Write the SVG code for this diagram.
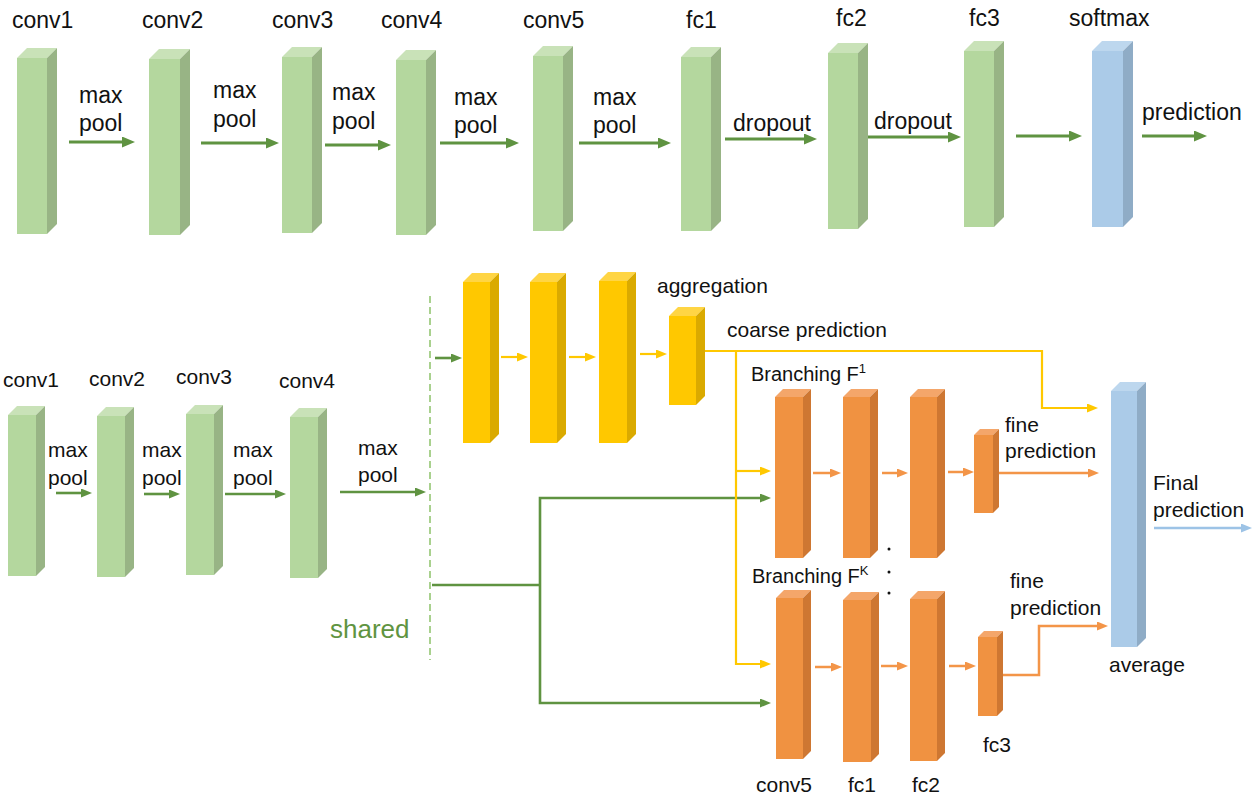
<svg xmlns="http://www.w3.org/2000/svg" width="1256" height="802" viewBox="0 0 1256 802">
<style>
text{font-family:"Liberation Sans",Arial,sans-serif;fill:#111}
.t{font-size:23px}
.b{font-size:21px}
.g .f{fill:#B4D79E}.g .s{fill:#98B485}.g .u{fill:#C9E2B8}
.y .f{fill:#FFC800}.y .s{fill:#DAAA00}.y .u{fill:#FFD544}
.o .f{fill:#F09241}.o .s{fill:#CE7732}.o .u{fill:#F4A66A}
.bl .f{fill:#ABCBE8}.bl .s{fill:#8FACC6}.bl .u{fill:#BDD7EE}
.cg{stroke:#5F9341;fill:none}
.cy{stroke:#FFC800;fill:none;stroke-width:2.2}
.co{stroke:#F39548;fill:none;stroke-width:2.5}
.cb{stroke:#9DC3E6;fill:none;stroke-width:2.5}
</style>
<defs>
<marker id="mgB" markerUnits="userSpaceOnUse" markerWidth="13" markerHeight="11" refX="5" refY="5.5" orient="auto"><path d="M0,0 L13,5.5 L0,11 z" fill="#5F9341"/></marker>
<marker id="mg" markerUnits="userSpaceOnUse" markerWidth="11" markerHeight="9" refX="3" refY="4.5" orient="auto"><path d="M0,0 L11,4.5 L0,9 z" fill="#5F9341"/></marker>
<marker id="my" markerUnits="userSpaceOnUse" markerWidth="11" markerHeight="9" refX="3" refY="4.5" orient="auto"><path d="M0,0 L11,4.5 L0,9 z" fill="#FFC800"/></marker>
<marker id="mo" markerUnits="userSpaceOnUse" markerWidth="11" markerHeight="9" refX="3" refY="4.5" orient="auto"><path d="M0,0 L11,4.5 L0,9 z" fill="#F39548"/></marker>
<marker id="mb" markerUnits="userSpaceOnUse" markerWidth="11" markerHeight="9" refX="3" refY="4.5" orient="auto"><path d="M0,0 L11,4.5 L0,9 z" fill="#9DC3E6"/></marker>
</defs>
<rect width="1256" height="802" fill="#fff"/>

<!-- top row -->
<g id="t-conv1" class="g"><rect class="f" x="17" y="58" width="30" height="176"/><path class="u" d="M17,58 L27,48 L57,48 L47,58 z"/><path class="s" d="M47,58 L57,48 L57,224 L47,234 z"/><text class="t" x="12" y="28">conv1</text></g>
<g id="t-conv2" class="g"><rect class="f" x="149" y="59" width="31" height="176"/><path class="u" d="M149,59 L159,49 L190,49 L180,59 z"/><path class="s" d="M180,59 L190,49 L190,225 L180,235 z"/><text class="t" x="142" y="28">conv2</text></g>
<g id="t-conv3" class="g"><rect class="f" x="282" y="57" width="30" height="176"/><path class="u" d="M282,57 L292,47 L322,47 L312,57 z"/><path class="s" d="M312,57 L322,47 L322,223 L312,233 z"/><text class="t" x="272" y="28">conv3</text></g>
<g id="t-conv4" class="g"><rect class="f" x="396" y="60" width="30" height="175"/><path class="u" d="M396,60 L406,50 L436,50 L426,60 z"/><path class="s" d="M426,60 L436,50 L436,225 L426,235 z"/><text class="t" x="381" y="28">conv4</text></g>
<g id="t-conv5" class="g"><rect class="f" x="533" y="56" width="30" height="175"/><path class="u" d="M533,56 L543,46 L573,46 L563,56 z"/><path class="s" d="M563,56 L573,46 L573,221 L563,231 z"/><text class="t" x="523" y="28">conv5</text></g>
<g id="t-fc1" class="g"><rect class="f" x="681" y="57" width="30" height="174"/><path class="u" d="M681,57 L691,47 L721,47 L711,57 z"/><path class="s" d="M711,57 L721,47 L721,221 L711,231 z"/><text class="t" x="686" y="28">fc1</text></g>
<g id="t-fc2" class="g"><rect class="f" x="828" y="53" width="30" height="176"/><path class="u" d="M828,53 L838,43 L868,43 L858,53 z"/><path class="s" d="M858,53 L868,43 L868,219 L858,229 z"/><text class="t" x="836" y="26">fc2</text></g>
<g id="t-fc3" class="g"><rect class="f" x="964" y="51" width="30" height="176"/><path class="u" d="M964,51 L974,41 L1004,41 L994,51 z"/><path class="s" d="M994,51 L1004,41 L1004,217 L994,227 z"/><text class="t" x="969" y="26">fc3</text></g>
<g id="t-softmax" class="bl"><rect class="f" x="1092" y="51" width="31" height="176"/><path class="u" d="M1092,51 L1102,41 L1133,41 L1123,51 z"/><path class="s" d="M1123,51 L1133,41 L1133,217 L1123,227 z"/><text class="t" x="1069" y="26">softmax</text></g>

<!-- bottom shared green -->
<g id="b-conv1" class="g"><rect class="f" x="8" y="415" width="28" height="161"/><path class="u" d="M8,415 L17,406 L45,406 L36,415 z"/><path class="s" d="M36,415 L45,406 L45,567 L36,576 z"/><text class="b" x="3" y="387">conv1</text></g>
<g id="b-conv2" class="g"><rect class="f" x="97" y="416" width="28" height="161"/><path class="u" d="M97,416 L106,407 L134,407 L125,416 z"/><path class="s" d="M125,416 L134,407 L134,568 L125,577 z"/><text class="b" x="89" y="386">conv2</text></g>
<g id="b-conv3" class="g"><rect class="f" x="186" y="414" width="28" height="161"/><path class="u" d="M186,414 L195,405 L223,405 L214,414 z"/><path class="s" d="M214,414 L223,405 L223,566 L214,575 z"/><text class="b" x="176" y="384">conv3</text></g>
<g id="b-conv4" class="g"><rect class="f" x="290" y="417" width="28" height="161"/><path class="u" d="M290,417 L299,408 L327,408 L318,417 z"/><path class="s" d="M318,417 L327,408 L327,569 L318,578 z"/><text class="b" x="279" y="388">conv4</text></g>

<!-- yellow coarse -->
<g id="y1" class="y"><rect class="f" x="463" y="282" width="27" height="161"/><path class="u" d="M463,282 L472,273 L499,273 L490,282 z"/><path class="s" d="M490,282 L499,273 L499,434 L490,443 z"/></g>
<g id="y2" class="y"><rect class="f" x="530" y="282" width="27" height="161"/><path class="u" d="M530,282 L539,273 L566,273 L557,282 z"/><path class="s" d="M557,282 L566,273 L566,434 L557,443 z"/></g>
<g id="y3" class="y"><rect class="f" x="599" y="281" width="28" height="162"/><path class="u" d="M599,281 L608,272 L636,272 L627,281 z"/><path class="s" d="M627,281 L636,272 L636,434 L627,443 z"/></g>
<g id="y4" class="y"><rect class="f" x="669" y="316" width="27" height="89"/><path class="u" d="M669,316 L678,307 L705,307 L696,316 z"/><path class="s" d="M696,316 L705,307 L705,396 L696,405 z"/><text class="b" x="657" y="293">aggregation</text></g>

<!-- orange branch 1 -->
<g id="o1" class="o"><rect class="f" x="775" y="397" width="28" height="161"/><path class="u" d="M775,397 L783,389 L811,389 L803,397 z"/><path class="s" d="M803,397 L811,389 L811,550 L803,558 z"/></g>
<g id="o2" class="o"><rect class="f" x="843" y="397" width="27" height="161"/><path class="u" d="M843,397 L851,389 L878,389 L870,397 z"/><path class="s" d="M870,397 L878,389 L878,550 L870,558 z"/></g>
<g id="o3" class="o"><rect class="f" x="910" y="397" width="27" height="161"/><path class="u" d="M910,397 L918,389 L945,389 L937,397 z"/><path class="s" d="M937,397 L945,389 L945,550 L937,558 z"/></g>
<g id="o4" class="o"><rect class="f" x="974" y="435" width="19" height="78"/><path class="u" d="M974,435 L980,429 L999,429 L993,435 z"/><path class="s" d="M993,435 L999,429 L999,507 L993,513 z"/></g>

<!-- orange branch K -->
<g id="k1" class="o"><rect class="f" x="776" y="598" width="27" height="161"/><path class="u" d="M776,598 L784,590 L811,590 L803,598 z"/><path class="s" d="M803,598 L811,590 L811,751 L803,759 z"/><text class="b" x="756" y="792">conv5</text></g>
<g id="k2" class="o"><rect class="f" x="843" y="600" width="28" height="162"/><path class="u" d="M843,600 L851,592 L879,592 L871,600 z"/><path class="s" d="M871,600 L879,592 L879,754 L871,762 z"/><text class="b" x="848" y="792">fc1</text></g>
<g id="k3" class="o"><rect class="f" x="910" y="599" width="27" height="162"/><path class="u" d="M910,599 L918,591 L945,591 L937,599 z"/><path class="s" d="M937,599 L945,591 L945,753 L937,761 z"/><text class="b" x="912" y="792">fc2</text></g>
<g id="k4" class="o"><rect class="f" x="978" y="637" width="19" height="79"/><path class="u" d="M978,637 L984,631 L1003,631 L997,637 z"/><path class="s" d="M997,637 L1003,631 L1003,710 L997,716 z"/><text class="b" x="983" y="752">fc3</text></g>

<!-- average -->
<g id="avg" class="bl"><rect class="f" x="1111" y="391" width="26" height="256"/><path class="u" d="M1111,391 L1120,382 L1146,382 L1137,391 z"/><path class="s" d="M1137,391 L1146,382 L1146,638 L1137,647 z"/><text class="b" x="1109" y="672">average</text></g>

<!-- labels -->
<g id="labels">
<text class="t" x="79" y="103">max<tspan x="79" y="131">pool</tspan></text>
<text class="t" x="213" y="98">max<tspan x="213" y="127">pool</tspan></text>
<text class="t" x="332" y="100">max<tspan x="332" y="129">pool</tspan></text>
<text class="t" x="454" y="105">max<tspan x="454" y="133">pool</tspan></text>
<text class="t" x="593" y="105">max<tspan x="593" y="133">pool</tspan></text>
<text class="t" x="733" y="131">dropout</text>
<text class="t" x="874" y="129">dropout</text>
<text class="t" x="1142" y="120">prediction</text>
<text class="b" x="48" y="457">max<tspan x="48" y="485">pool</tspan></text>
<text class="b" x="142" y="457">max<tspan x="142" y="485">pool</tspan></text>
<text class="b" x="233" y="457">max<tspan x="233" y="485">pool</tspan></text>
<text class="b" x="358" y="455">max<tspan x="358" y="482">pool</tspan></text>
<text x="330" y="638" style="font-size:26px;fill:#609441">shared</text>
<text class="b" x="727" y="337">coarse prediction</text>
<text x="751" y="381" style="font-size:20px">Branching F<tspan dy="-8" style="font-size:13px">1</tspan></text>
<text x="752" y="583" style="font-size:20px">Branching F<tspan dy="-8" style="font-size:13px">K</tspan></text>
<text class="b" x="1005" y="432">fine<tspan x="1005" y="458">prediction</tspan></text>
<text class="b" x="1010" y="588">fine<tspan x="1010" y="615">prediction</tspan></text>
<text class="b" x="1153" y="490">Final<tspan x="1153" y="517">prediction</tspan></text>
<circle cx="889" cy="549" r="1.5" fill="#111"/>
<circle cx="889" cy="572" r="1.5" fill="#111"/>
<circle cx="889" cy="593" r="1.5" fill="#111"/>
</g>

<!-- connectors -->
<g id="connectors">
<line x1="430" y1="296" x2="430" y2="660" stroke="#A9D18E" stroke-width="2" stroke-dasharray="7,4"/>
<g class="cg" stroke-width="3" marker-end="url(#mgB)">
<path d="M69,142 H127"/>
<path d="M201,143 H271"/>
<path d="M325,145 H383"/>
<path d="M440,143 H511"/>
<path d="M579,143 H663"/>
<path d="M725,139 H809"/>
<path d="M868,137 H953"/>
<path d="M1016,136 H1074"/>
<path d="M1142,136 H1199"/>
</g>
<g class="cg" stroke-width="2.6" marker-end="url(#mg)">
<path d="M56,493 H84"/>
<path d="M144,494 H172"/>
<path d="M225,494 H278"/>
<path d="M340,492 H418"/>
<path d="M435,358 H454"/>
<path d="M540,585 V498 H763"/>
<path d="M540,585 V703 H763"/>
</g>
<path class="cg" stroke-width="2.6" d="M432,585 H540"/>
<g class="cy" marker-end="url(#my)">
<path d="M501,357 H520"/>
<path d="M569,357 H588"/>
<path d="M640,354 H659"/>
<path d="M705,351 H1042 V408 H1090"/>
<path d="M736,351 V664 H763"/>
<path d="M736,471 H763"/>
</g>
<g class="co" marker-end="url(#mo)">
<path d="M813,473 H833"/>
<path d="M882,473 H900"/>
<path d="M948,472 H966"/>
<path d="M999,473 H1091"/>
<path d="M815,667 H834"/>
<path d="M881,666 H900"/>
<path d="M949,666 H968"/>
<path d="M1003,675 H1039 V626 H1100"/>
</g>
<path class="cb" d="M1154,528 H1244" marker-end="url(#mb)"/>
</g>
</svg>
